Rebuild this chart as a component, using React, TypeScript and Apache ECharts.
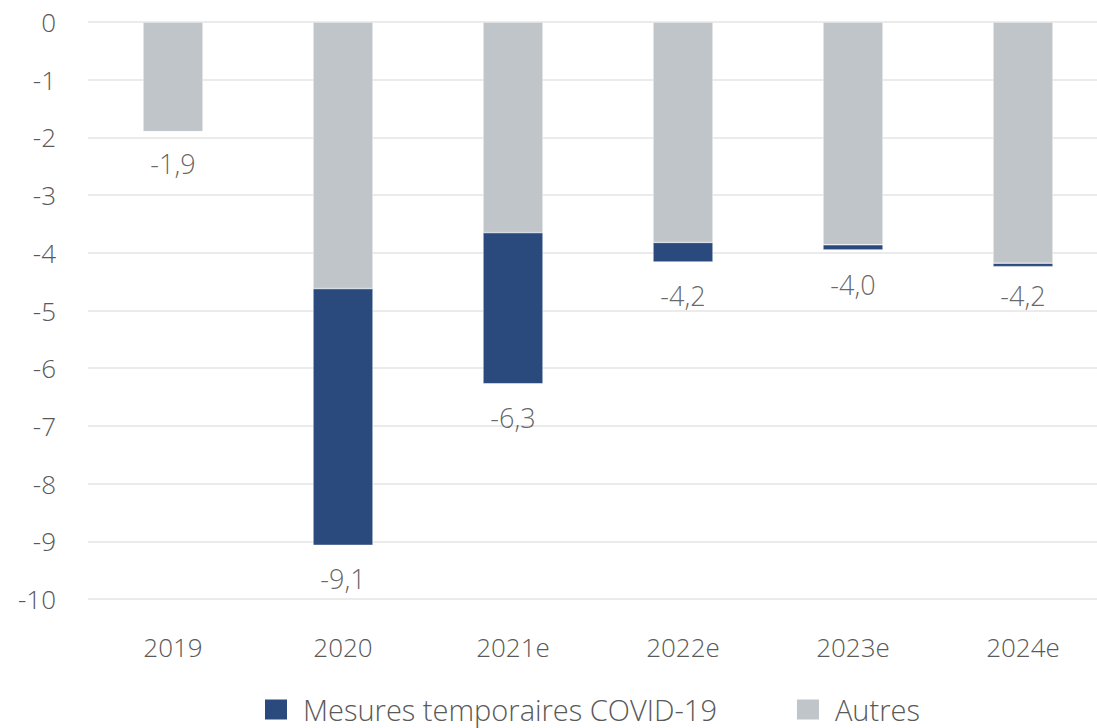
import React, { useEffect, useRef } from "react";
import * as echarts from "echarts";

const categories = ["2019", "2020", "2021e", "2022e", "2023e", "2024e"];
const autres = [-1.9, -4.62, -3.65, -3.82, -3.86, -4.18];
const covid = [0, -4.45, -2.62, -0.34, -0.09, -0.06];
const totals = [-1.9, -9.1, -6.3, -4.2, -4.0, -4.2];
const yTicks = { min: -10, max: 0, interval: 1 };

const FONT = "'Open Sans', 'Noto Sans', sans-serif";
const TEXT = "#595959";

export default function App() {
  const ref = useRef<HTMLDivElement>(null);
  useEffect(() => {
    document.body.style.margin = "0";
    const chart = echarts.init(ref.current!, null, { renderer: "svg" });
    chart.setOption({
      animation: false,
      textStyle: { fontFamily: FONT, fontWeight: 300, color: TEXT },
      grid: { left: 88, width: 1020, top: 22, bottom: 129, containLabel: false, outerBoundsMode: "none" },
      legend: {
        data: ["Mesures temporaires COVID-19", "Autres"],
        top: 695,
        left: 263,
        padding: 0,
        itemWidth: 24,
        itemHeight: 22,
        itemGap: 78,
        icon: "rect",
        textStyle: { fontFamily: FONT, fontWeight: 300, fontSize: 29, color: TEXT, padding: [0, 0, 0, 10] },
      },
      xAxis: {
        type: "category",
        data: categories,
        position: "bottom",
        axisLine: { show: false },
        axisTick: { show: false },
        axisLabel: { fontFamily: FONT, fontWeight: 300, fontSize: 26, color: TEXT, margin: 35 },
      },
      yAxis: {
        type: "value",
        min: yTicks.min,
        max: yTicks.max,
        interval: yTicks.interval,
        axisLine: { show: false },
        axisTick: { show: false },
        splitLine: { lineStyle: { color: "#E4E4E4", width: 1.5 } },
        axisLabel: { fontFamily: FONT, fontWeight: 300, fontSize: 26, color: TEXT, margin: 32 },
      },
      series: [
        {
          name: "Autres",
          type: "bar",
          stack: "total",
          data: autres,
          barWidth: 60,
          itemStyle: { color: "#BFC5C8", borderColor: "#ffffff", borderWidth: 0.5 },
        },
        {
          name: "Mesures temporaires COVID-19",
          type: "bar",
          stack: "total",
          data: covid,
          barWidth: 60,
          itemStyle: { color: "#2A4A7E", borderColor: "#ffffff", borderWidth: 0.5 },
        },
        {
          name: "totals",
          type: "scatter",
          data: totals,
          symbolSize: 0,
          silent: true,
          itemStyle: { color: "#404040" },
          label: {
            show: true,
            position: "bottom",
            distance: 18,
            fontFamily: FONT,
            fontWeight: 300,
            fontSize: 27,
            color: "#404040",
            formatter: (p: any) => Number(p.value).toFixed(1).replace(".", ","),
          },
        },
      ],
    });
    return () => chart.dispose();
  }, []);
  return <div ref={ref} style={{ width: 1097, height: 728 }} />;
}
